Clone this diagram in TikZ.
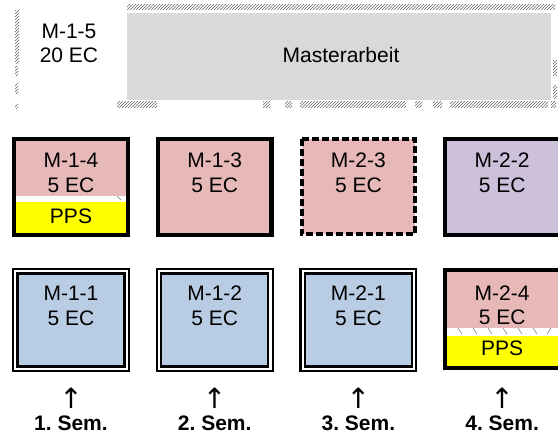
\documentclass[tikz,border=0pt]{standalone}
\usepackage{fontspec}
\setmainfont{Liberation Sans}
\newfontfamily\arrowfont{DejaVu Sans}
\usetikzlibrary{patterns}

\definecolor{modpink}{RGB}{230,184,183}
\definecolor{modblue}{RGB}{184,204,228}
\definecolor{modlila}{RGB}{204,192,218}
\definecolor{modgray}{RGB}{217,217,217}
\definecolor{ppsyellow}{RGB}{255,255,0}

\tikzset{
	boxtext/.style={anchor=base, inner sep=0pt, font=\fontsize{21}{25}\selectfont},
	semtext/.style={anchor=base, inner sep=0pt, font=\fontsize{21}{25}\selectfont\bfseries\frenchspacing},
	arrowtext/.style={anchor=base, inner sep=0pt, font=\arrowfont\fontsize{28}{30}\selectfont},
	thickframe/.style={line width=4.3pt},
	dashframe/.style={line width=3.5pt, dash pattern=on 7pt off 3pt},
	doubleframe/.style={line width=2.2pt, double=white, double distance=2.2pt},
	hatchstrip/.style={pattern=north east lines, pattern color=black!60},
	tick/.style={line width=0.5pt, color=black!55}
}

\begin{document}
\begin{tikzpicture}[x=1pt, y=-1pt]
			%%%%% START %%%%%
			\useasboundingbox (0, 0) rectangle (558, 437);
			
			% Masterarbeit
			\fill[hatchstrip] (127, 4) rectangle (555, 9);
			\fill[hatchstrip] (15, 10) rectangle (19, 63);
			\fill[hatchstrip] (15, 66) rectangle (18, 75);
			\fill[hatchstrip] (15, 83) rectangle (18, 93);
			\fill[hatchstrip] (15, 104) rectangle (18, 108);
			\fill[hatchstrip] (553, 60) rectangle (557, 75);
			\fill[hatchstrip] (553, 85) rectangle (557, 98);
			\fill[hatchstrip] (117, 101) rectangle (157, 107);
			\fill[hatchstrip] (263, 101) rectangle (270, 107);
			\fill[hatchstrip] (285, 101) rectangle (292, 107);
			\fill[hatchstrip] (300, 101) rectangle (406, 107);
			\fill[hatchstrip] (415, 101) rectangle (422, 107);
			\fill[hatchstrip] (433, 101) rectangle (442, 107);
			\fill[hatchstrip] (450, 101) rectangle (548, 107);
			\fill[hatchstrip] (551, 101) rectangle (556, 107);
			
			\fill[modgray] (127, 13) rectangle (551, 100);
			\node[boxtext] (m15a) at (69, 38) {M-1-5};
			\node[boxtext] (m15b) at (69, 62) {20 EC};
			\node[boxtext] (arbeit) at (341, 62) {Masterarbeit};
			
			% zweite Reihe
			\fill[modpink] (14, 139) rectangle (128, 196);
			\fill[white] (14, 196) rectangle (128, 202);
			\fill[ppsyellow] (14, 202) rectangle (128, 235);
			\draw[tick] (117, 196) -- (121, 200);
			\draw[thickframe] (14.2, 139.2) rectangle (127.8, 234.8);
			\node[boxtext] (m14a) at (71, 167) {M-1-4};
			\node[boxtext] (m14b) at (71, 192) {5 EC};
			\node[boxtext] (m14p) at (71, 223) {PPS};
			
			\draw[thickframe, fill=modpink] (157.9, 139.2) rectangle (271.5, 234.8);
			\node[boxtext] (m13a) at (214.7, 167) {M-1-3};
			\node[boxtext] (m13b) at (214.7, 192) {5 EC};
			
			\draw[dashframe, fill=modpink] (301.8, 138.8) rectangle (415.2, 234.2);
			\node[boxtext] (m23a) at (358.4, 167) {M-2-3};
			\node[boxtext] (m23b) at (358.4, 192) {5 EC};
			
			\draw[thickframe, fill=modlila] (445.2, 139.2) rectangle (560, 234.8);
			\node[boxtext] (m22a) at (502.1, 167) {M-2-2};
			\node[boxtext] (m22b) at (502.1, 192) {5 EC};
			
			% erste Reihe
			\draw[doubleframe, fill=modblue] (15.3, 271.3) rectangle (126.7, 368.7);
			\node[boxtext] (m11a) at (71, 300) {M-1-1};
			\node[boxtext] (m11b) at (71, 325) {5 EC};
			
			\draw[doubleframe, fill=modblue] (159, 271.3) rectangle (270.4, 368.7);
			\node[boxtext] (m12a) at (214.7, 300) {M-1-2};
			\node[boxtext] (m12b) at (214.7, 325) {5 EC};
			
			\draw[doubleframe, fill=modblue] (302.7, 271.3) rectangle (414.1, 368.7);
			\node[boxtext] (m21a) at (358.4, 300) {M-2-1};
			\node[boxtext] (m21b) at (358.4, 325) {5 EC};
			
			\fill[modpink] (445, 270) rectangle (560, 328);
			\fill[white] (445, 328) rectangle (560, 336);
			\fill[ppsyellow] (445, 336) rectangle (560, 368);
			\draw[tick] (458, 328) -- (462, 334);
			\draw[tick] (473, 328) -- (477, 334);
			\draw[tick] (488, 328) -- (492, 334);
			\draw[tick] (503, 328) -- (507, 334);
			\draw[tick] (518, 328) -- (522, 334);
			\draw[tick] (533, 328) -- (537, 334);
			\draw[tick] (551, 328) -- (547, 334);
			\draw[thickframe] (445.2, 270.2) rectangle (560, 367.8);
			\node[boxtext] (m24a) at (502.1, 300) {M-2-4};
			\node[boxtext] (m24b) at (502.1, 324) {5 EC};
			\node[boxtext] (m24p) at (502.1, 355) {PPS};
			
			% Semester
			\node[arrowtext] (pfeil1) at (71, 408) {↑};
			\node[arrowtext] (pfeil2) at (214.7, 408) {↑};
			\node[arrowtext] (pfeil3) at (358.4, 408) {↑};
			\node[arrowtext] (pfeil4) at (502.1, 408) {↑};
			\node[semtext] (sem1) at (71, 430) {1. Sem.};
			\node[semtext] (sem2) at (214.7, 430) {2. Sem.};
			\node[semtext] (sem3) at (358.4, 430) {3. Sem.};
			\node[semtext] (sem4) at (502.1, 430) {4. Sem.};
			
			%%%%% END %%%%%
		\end{tikzpicture}
\end{document}
